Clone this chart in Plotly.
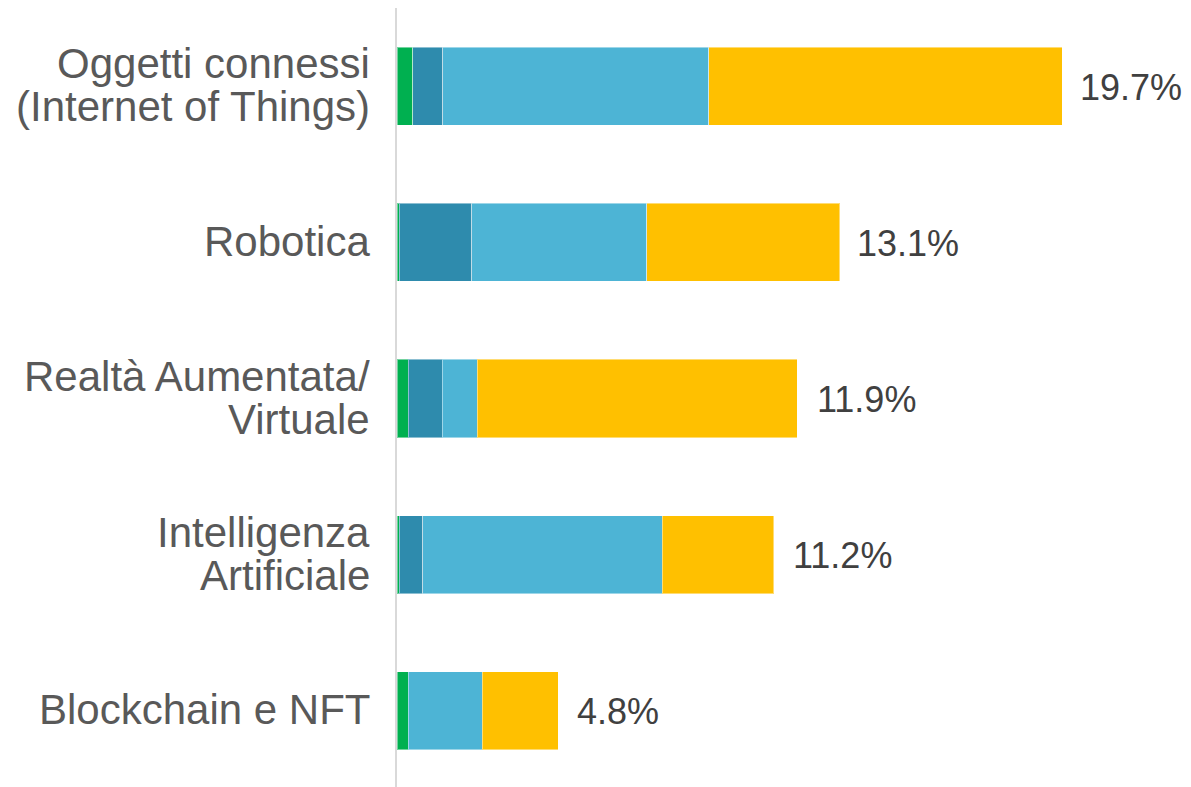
import plotly.graph_objects as go

categories = [
    "Oggetti connessi (Internet of Things)",
    "Robotica",
    "Realtà Aumentata/ Virtuale",
    "Intelligenza Artificiale",
    "Blockchain e NFT",
]
# how each category label is broken into lines
label_lines = [
    ["Oggetti connessi", "(Internet of Things)"],
    ["Robotica"],
    ["Realtà Aumentata/", "Virtuale"],
    ["Intelligenza", "Artificiale"],
    ["Blockchain e NFT"],
]
totals = [19.7, 13.1, 11.9, 11.2, 4.8]

# four stacked segments per bar (in %)
seg_green = [0.47, 0.06, 0.33, 0.06, 0.33]
seg_teal = [0.89, 2.16, 1.01, 0.71, 0.0]
seg_blue = [7.88, 5.18, 1.04, 7.08, 2.19]
seg_yellow = [10.46, 5.72, 9.48, 3.31, 2.25]

colors = ["#00B050", "#2E8BAD", "#4DB4D5", "#FFC000"]
FONT = "Liberation Sans, Arial, sans-serif"

fig = go.Figure()
for vals, col in zip([seg_green, seg_teal, seg_blue, seg_yellow], colors):
    fig.add_trace(
        go.Bar(
            y=categories,
            x=vals,
            orientation="h",
            marker=dict(color=col, line=dict(color="rgba(255,255,255,0.45)", width=1)),
            width=0.5,
            showlegend=False,
            hoverinfo="skip",
        )
    )

# value labels at the bar ends
for cat, tot in zip(categories, totals):
    fig.add_annotation(
        x=tot, y=cat, text=f"{tot:.1f}%", showarrow=False,
        xanchor="left", xshift=16, yshift=-1,
        font=dict(size=36, color="#404040", family=FONT),
    )

# category labels, one annotation per line to keep the tight line spacing
line_gap = 43
for cat, lines in zip(categories, label_lines):
    n = len(lines)
    for i, txt in enumerate(lines):
        fig.add_annotation(
            x=0, xref="paper", y=cat, text=txt, showarrow=False,
            xanchor="right", xshift=-25,
            yshift=((n - 1) / 2 - i) * line_gap + 1,
            font=dict(size=42, color="#595959", family=FONT),
        )

fig.update_layout(
    barmode="stack",
    width=1183,
    height=781,
    margin=dict(l=389, r=0, t=0, b=0),
    plot_bgcolor="white",
    paper_bgcolor="white",
    font=dict(family=FONT, color="#595959"),
    xaxis=dict(range=[0, 23.52], showgrid=False, zeroline=False, showticklabels=False,
               showline=False, fixedrange=True),
    yaxis=dict(autorange="reversed", showgrid=False, zeroline=False,
               showline=True, linecolor="#D9D9D9", linewidth=2,
               ticks="", showticklabels=False, automargin=False),
)

fig.write_html("out.html")
